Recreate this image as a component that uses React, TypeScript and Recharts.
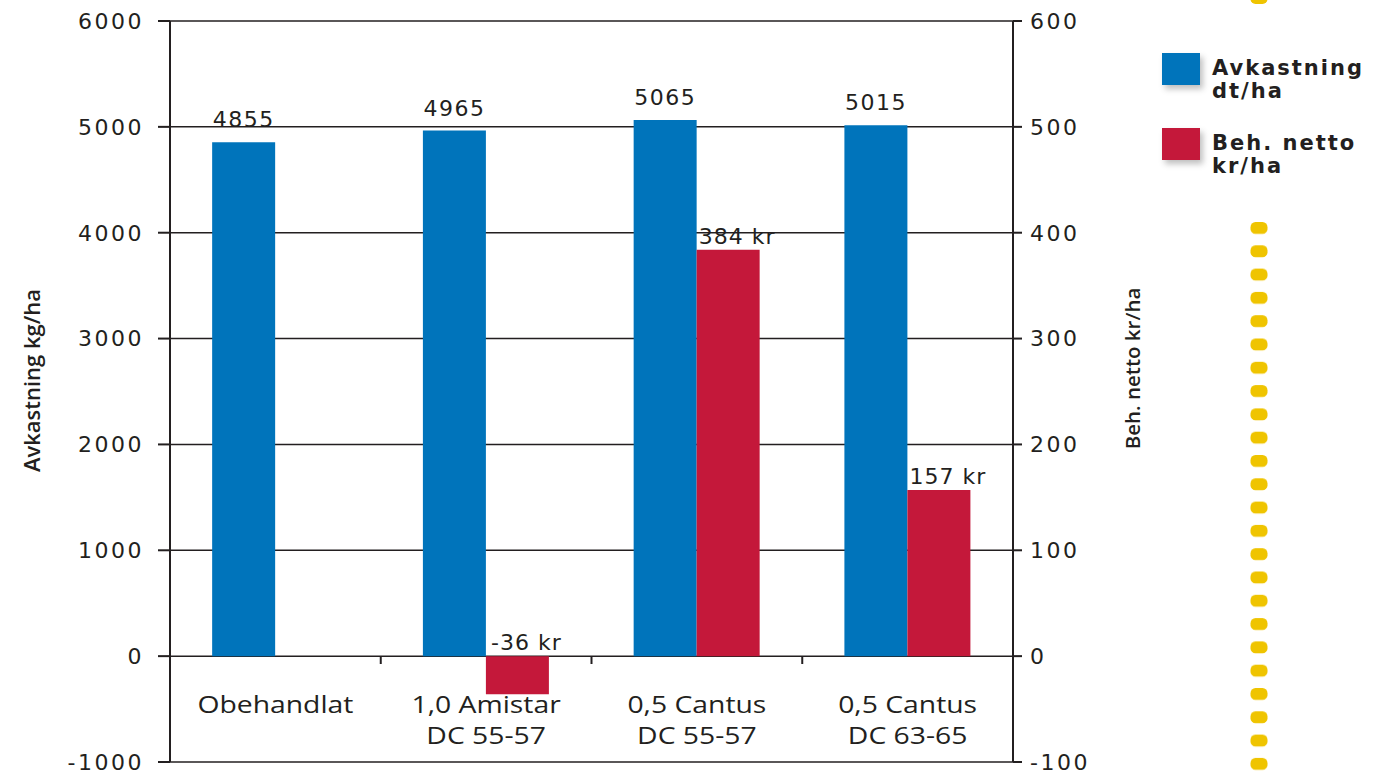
import {
  Bar,
  CartesianGrid,
  ComposedChart,
  LabelList,
  XAxis,
  YAxis,
} from "recharts";

const categories = [
  ["Obehandlat"],
  ["1,0 Amistar", "DC 55-57"],
  ["0,5 Cantus", "DC 55-57"],
  ["0,5 Cantus", "DC 63-65"],
];
const avkastning = [4855, 4965, 5065, 5015];
const behNetto: (number | null)[] = [null, -36, 384, 157];
const leftTicks = [-1000, 0, 1000, 2000, 3000, 4000, 5000, 6000];
const rightTicks = [-100, 0, 100, 200, 300, 400, 500, 600];

const data = categories.map((c, i) => ({
  name: c.join("\n"),
  avk: avkastning[i],
  net: behNetto[i],
}));

const BLUE = "#0074bb";
const RED = "#c4183a";
const INK = "#231f20";
const NUM_FONT = "DejaVu Sans";
const TEXT_FONT = "Open Sans";

// category labels sit under the zero line, not at the bottom edge
function CategoryTick(props: any) {
  const { x, y, payload, index } = props;
  const lines = String(payload.value).split("\n");
  const half = payload.offset || 105;
  const zeroY = y - 107;
  return (
    <g>
      {index > 0 && (
        <line x1={x - half} x2={x - half} y1={zeroY} y2={zeroY + 8} stroke={INK} strokeWidth={2} />
      )}
      {lines.map((l: string, i: number) => (
        <text
          key={i}
          transform={`translate(${x}, ${y - 50 + i * 31}) scale(1.18, 1)`}
          textAnchor="middle"
          fontFamily={TEXT_FONT}
          fontSize={24}
          fill={INK}
        >
          {l}
        </text>
      ))}
    </g>
  );
}

function AxisTitle({ viewBox, value, cx, dy, size }: any) {
  const cy = viewBox.y + viewBox.height / 2 + dy;
  return (
    <text
      transform={`translate(${cx}, ${cy}) rotate(-90)`}
      textAnchor="middle"
      fontFamily={TEXT_FONT}
      fontWeight={600}
      fontSize={size}
      fill={INK}
    >
      {value}
    </text>
  );
}

function BlueLabel(props: any) {
  const { x, y, width, height, value } = props;
  const top = Math.min(y, y + height);
  return (
    <text x={x + width / 2} y={top - 15} textAnchor="middle" fontFamily={NUM_FONT} fontSize={22} letterSpacing={1.5} fill={INK}>
      {value}
    </text>
  );
}

function RedLabel(props: any) {
  const { x, y, width, height, value } = props;
  if (value == null) return null;
  const top = Math.min(y, y + height);
  return (
    <text x={x + width / 2 + 9} y={top - 6} textAnchor="middle" fontFamily={NUM_FONT} fontSize={22} letterSpacing={1} fill={INK}>
      {value} kr
    </text>
  );
}

function LegendBox() {
  const items = [
    { color: BLUE, lines: ["Avkastning", "dt/ha"], top: 53 },
    { color: RED, lines: ["Beh. netto", "kr/ha"], top: 128 },
  ];
  return (
    <>
      {items.map((it) => (
        <div key={it.color} style={{ position: "absolute", left: 1162, top: it.top, display: "flex" }}>
          <div style={{ width: 38, height: 32, background: it.color, boxShadow: "3px 4px 6px rgba(0,0,0,0.25)" }} />
          <div
            style={{
              marginLeft: 12,
              marginTop: 4,
              fontFamily: NUM_FONT,
              fontWeight: "bold",
              fontSize: 21,
              letterSpacing: 2,
              lineHeight: "23px",
              color: INK,
            }}
          >
            {it.lines.map((l) => (
              <div key={l}>{l}</div>
            ))}
          </div>
        </div>
      ))}
    </>
  );
}

export default function App() {
  return (
    <div style={{ position: "absolute", left: 0, top: 0, width: 1374, height: 774, background: "#fff", overflow: "hidden" }}>
      <ComposedChart
        width={1374}
        height={774}
        data={data}
        margin={{ top: 21, right: 221, bottom: 0, left: 0 }}
        barGap={0}
        barCategoryGap="20%"
      >
        <CartesianGrid yAxisId="left" vertical={false} stroke={INK} strokeWidth={1.5} strokeOpacity={1} />
        <XAxis
          dataKey="name"
          height={12}
          tickLine={false}
          axisLine={false}
          tickSize={1}
          tickMargin={0}
          interval={0}
          tick={<CategoryTick />}
        />
        <YAxis
          yAxisId="left"
          width={170}
          domain={[-1000, 6000]}
          ticks={leftTicks}
          interval={0}
          tickSize={12}
          tickMargin={14}
          axisLine={{ stroke: INK, strokeWidth: 2 }}
          tickLine={{ stroke: INK, strokeWidth: 2 }}
          tick={{ fill: INK, fontFamily: NUM_FONT, fontSize: 22, letterSpacing: 2.5 }}
          label={<AxisTitle value="Avkastning kg/ha" cx={40} dy={-11} size={22} />}
        />
        <YAxis
          yAxisId="right"
          orientation="right"
          width={140}
          domain={[-100, 600]}
          ticks={rightTicks}
          interval={0}
          tickSize={9}
          tickMargin={8}
          axisLine={{ stroke: INK, strokeWidth: 2 }}
          tickLine={{ stroke: INK, strokeWidth: 2 }}
          tick={{ fill: INK, fontFamily: NUM_FONT, fontSize: 22, letterSpacing: 2.5 }}
          label={<AxisTitle value="Beh. netto kr/ha" cx={1140} dy={-23} size={20.5} />}
        />
        <Bar yAxisId="left" dataKey="avk" fill={BLUE} isAnimationActive={false}>
          <LabelList dataKey="avk" content={<BlueLabel />} />
        </Bar>
        <Bar yAxisId="right" dataKey="net" fill={RED} isAnimationActive={false}>
          <LabelList dataKey="net" content={<RedLabel />} />
        </Bar>
      </ComposedChart>
      <LegendBox />
      <svg width={1374} height={774} style={{ position: "absolute", left: 0, top: 0, pointerEvents: "none" }}>
        <defs>
          <pattern id="dots" x={1249} y={222} width={20} height={23.3} patternUnits="userSpaceOnUse">
            <rect x={1.5} y={0} width={17} height={12} rx={5} fill="#efc400" />
          </pattern>
        </defs>
        <rect x={1250.5} y={-8} width={17} height={12} rx={5} fill="#efc400" />
        <rect x={1249} y={222} width={20} height={552} fill="url(#dots)" />
      </svg>
    </div>
  );
}
